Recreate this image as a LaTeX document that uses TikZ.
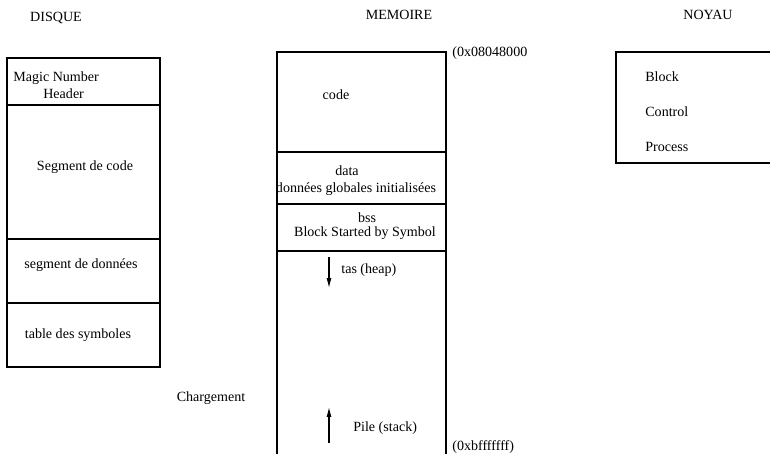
\documentclass[tikz,border=0pt]{standalone}
\usepackage{fontspec}
\setmainfont{Liberation Serif}
\usetikzlibrary{positioning,arrows.meta}

\begin{document}
\begin{tikzpicture}[
    x=0.02cm, y=-0.02cm,
    txt/.style={inner sep=0pt, font=\fontsize{8}{9.6}\selectfont},
    box/.style={draw, line width=0.6pt},
    sep/.style={draw, line width=0.9pt},
    growarrow/.style={-{Latex[length=5.6pt,width=2.8pt]}, line width=0.6pt}
]
\useasboundingbox (0,0) rectangle (770,453);

% Titles
\node[txt] (disque) at (56,18) {DISQUE};
\node[txt] (memoire) at (399,15) {MEMOIRE};
\node[txt] (noyau) at (708,15) {NOYAU};

% Disque
\draw[box] (7,58) rectangle (160,367);
\foreach \y in {105,239,303} \draw[sep] (7,\y) -- (160,\y);
\node[txt, anchor=west, align=left] (magic) at (13,85) {Magic Number\\\hspace*{0.6cm}Header};
\node[txt] (segcode) at (85,167) {Segment de code};
\node[txt] (segdon) at (81,265) {segment de donn\'ees};
\node[txt] (symb) at (78,335) {table des symboles};

% Memoire
\draw[box] (277,470) -- (277,52) -- (446,52) -- (446,470);
\foreach \y in {152,204,251} \draw[sep] (277,\y) -- (446,\y);
\node[txt] (code) at (336,95) {code};
\node[txt] (data) at (347,171) {data};
\node[txt] (glob) at (356,189) {donn\'ees globales initialis\'ees};
\node[txt] (bss) at (367,218) {bss};
\node[txt] (bsym) at (365,233) {Block Started by Symbol};
\node[txt, anchor=west] (addrlow) at (452,53) {(0x08048000};
\node[txt, anchor=west] (addrhigh) at (452,447) {(0xbfffffff)};

% Tas et pile
\coordinate (heapA) at (329,257);
\coordinate (heapB) at (329,288);
\draw[growarrow] (heapA) -- (heapB);
\node[txt, anchor=west] (tas) at (341,270) {tas (heap)};
\coordinate (stackA) at (329,443);
\coordinate (stackB) at (329,407);
\draw[growarrow] (stackA) -- (stackB);
\node[txt, anchor=west] (pile) at (353,428) {Pile (stack)};

\node[txt] (charg) at (211,398) {Chargement};

% Noyau
\draw[box] (616,52) rectangle (790,163);
\node[txt, anchor=west] (block) at (645,77) {Block};
\node[txt, anchor=west] (control) at (645,112) {Control};
\node[txt, anchor=west] (process) at (645,147) {Process};

\end{tikzpicture}
\end{document}
